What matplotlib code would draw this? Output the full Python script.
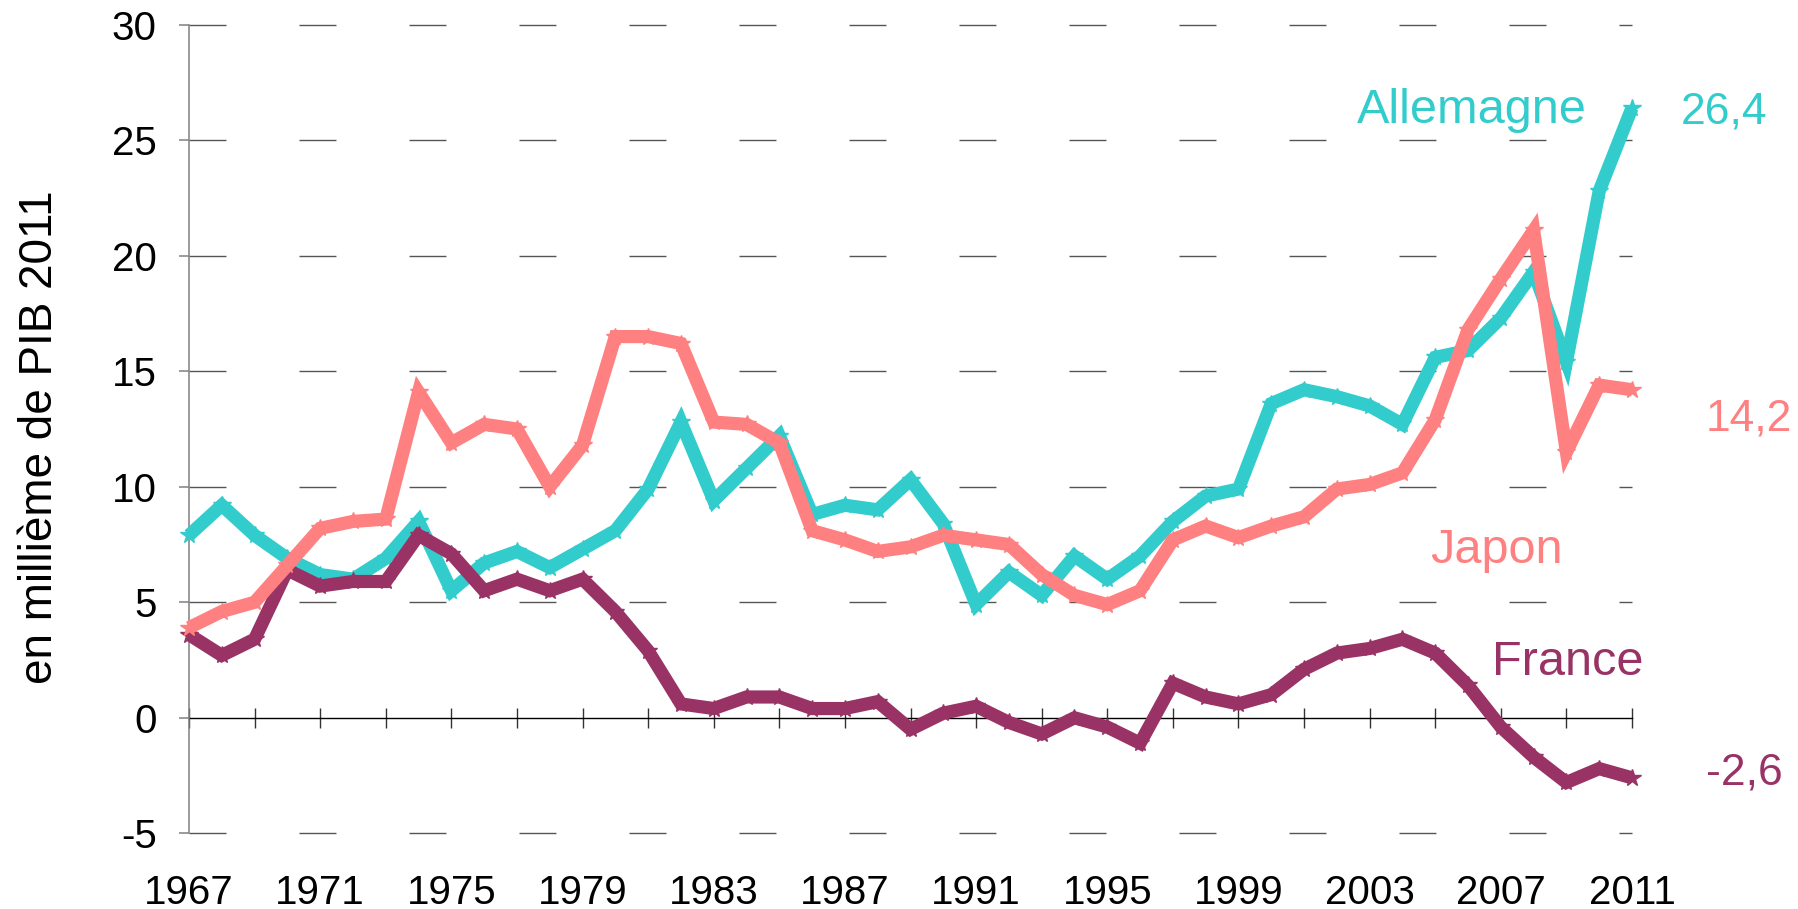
import matplotlib

matplotlib.use("Agg")
import matplotlib.pyplot as plt  # noqa: E402

plt.rcParams["font.family"] = ["Liberation Sans", "DejaVu Sans"]
plt.rcParams["axes.unicode_minus"] = False

years = list(range(1967, 2012))

allemagne = [7.9, 9.2, 7.9, 6.9, 6.2, 6.0, 6.9, 8.5, 5.5, 6.7,
             7.2, 6.5, 7.3, 8.1, 9.9, 12.8, 9.4, 10.8, 12.2, 8.8,
             9.2, 9.0, 10.3, 8.4, 4.9, 6.3, 5.3, 7.0, 6.0, 7.0,
             8.5, 9.6, 9.9, 13.6, 14.2, 13.9, 13.5, 12.7, 15.6, 15.9,
             17.3, 19.3, 15.4, 22.8, 26.4]
japon = [3.9, 4.6, 5.0, 6.6, 8.2, 8.5, 8.6, 14.1, 11.9, 12.7,
         12.5, 10.0, 11.8, 16.5, 16.5, 16.2, 12.8, 12.7, 11.9, 8.1,
         7.7, 7.2, 7.4, 7.9, 7.7, 7.5, 6.2, 5.3, 4.9, 5.5,
         7.7, 8.3, 7.8, 8.3, 8.7, 9.9, 10.1, 10.6, 12.9, 16.8,
         19.0, 21.1, 11.5, 14.4, 14.2]
france = [3.6, 2.7, 3.4, 6.4, 5.7, 5.9, 5.9, 7.9, 7.1, 5.5,
          6.0, 5.5, 6.0, 4.6, 2.9, 0.6, 0.4, 0.9, 0.9, 0.4,
          0.4, 0.7, -0.5, 0.2, 0.5, -0.2, -0.7, 0.0, -0.4, -1.1,
          1.5, 0.9, 0.6, 1.0, 2.1, 2.8, 3.0, 3.4, 2.8, 1.4,
          -0.4, -1.7, -2.8, -2.2, -2.6]

last_values = ["26,4", "14,2", "-2,6"]

TEAL = "#33CCCC"
SALMON = "#FF8080"
PLUM = "#993366"
GRID = "#555555"

W, H = 1798, 909
fig = plt.figure(figsize=(W / 100, H / 100), dpi=100)
# plot box in pixels: x 189..1632, y 24.7..833.3
ax = fig.add_axes([189 / W, 1 - 833.3 / H, (1632 - 189) / W, (833.3 - 24.7) / H])
ax.set_xlim(1967, 2011)
ax.set_ylim(-5, 30)

# dashed horizontal grid (0 is the category axis itself)
for v in range(-5, 31, 5):
    if v == 0:
        continue
    ax.axhline(v, color=GRID, lw=1.0, dashes=(26.6, 52.6), zorder=1, clip_on=False)

line_kw = dict(lw=9.5, marker="*", ms=13, solid_joinstyle="miter",
               solid_capstyle="butt", clip_on=False)
ax.plot(years, allemagne, color=TEAL, zorder=3, **line_kw)
ax.plot(years, france, color=PLUM, zorder=4, **line_kw)
ax.plot(years, japon, color=SALMON, zorder=5, **line_kw)

for side in ("top", "right"):
    ax.spines[side].set_visible(False)
ax.spines["left"].set_color("#808080")
ax.spines["left"].set_linewidth(1.1)
ax.spines["bottom"].set_position(("data", 0))
ax.spines["bottom"].set_color("black")
ax.spines["bottom"].set_linewidth(1.0)
ax.spines["bottom"].set_zorder(2)

ax.set_xticks(range(1967, 2012, 2))
ax.tick_params(axis="x", direction="inout", length=14.4, width=1.0,
               color="#333333", labelbottom=False)
ax.set_yticks(range(-5, 31, 5))
ax.tick_params(axis="y", direction="out", length=7.2, width=1.1,
               color="#808080", labelsize=29, pad=16)

# year labels sit below the plot, not on the zero line
sec = ax.secondary_xaxis("bottom")
sec.set_xticks(range(1967, 2012, 4))
sec.tick_params(length=0, labelsize=29, pad=29)
sec.spines["bottom"].set_visible(False)

fig.text(40 / W, 1 - 437 / H, "en millième de PIB 2011", rotation=90,
         ha="center", va="center", fontsize=33)

txt = dict(ha="left", va="baseline", clip_on=False)
ax.text(2002.6, 25.73, "Allemagne", color=TEAL, fontsize=35, **txt)
ax.text(2012.5, 25.73, last_values[0], color=TEAL, fontsize=32, **txt)
ax.text(2004.85, 6.68, "Japon", color=SALMON, fontsize=35, **txt)
ax.text(2013.25, 12.44, last_values[1], color=SALMON, fontsize=32, **txt)
ax.text(2006.74, 1.87, "France", color=PLUM, fontsize=35, **txt)
ax.text(2013.25, -2.89, last_values[2], color=PLUM, fontsize=32, **txt)

fig.savefig("out.png", dpi=100, facecolor="white")
